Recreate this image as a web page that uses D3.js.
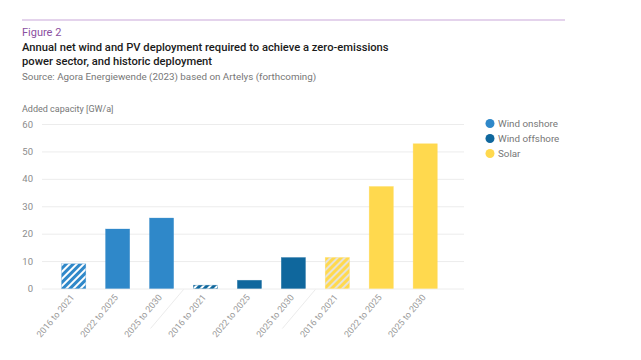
<!DOCTYPE html>
<html><head><meta charset="utf-8">
<script src="https://cdn.jsdelivr.net/npm/d3@7"></script>
<style>body{margin:0;background:#fff}svg{display:block}text{font-family:Roboto,"Noto Sans",sans-serif}</style>
</head><body><svg id="c" width="641" height="360"></svg>
<script>
const groups = ["Wind onshore","Wind offshore","Solar"];
const periods = ["2016 to 2021","2022 to 2025","2025 to 2030"];
const windOnshore = [9.0, 21.7, 25.7];
const windOffshore = [1.2, 3.0, 11.3];
const solar = [11.3, 37.2, 52.8];
const historic = [true, false, false];
const yTicks = [0,10,20,30,40,50,60];
const colors = {"Wind onshore":"#2f88c9","Wind offshore":"#0f679d","Solar":"#ffd94e"};
const stripeColors = {"Wind onshore":"#ffffff","Wind offshore":"#ffffff","Solar":"#e6e2d8"};

const seriesVals = {"Wind onshore":windOnshore,"Wind offshore":windOffshore,"Solar":solar};
const bars = [];
groups.forEach(g => periods.forEach((p,i) => bars.push({g, p, v: seriesVals[g][i], hist: historic[i], key: g+"|"+p})));

const svg = d3.select("#c");
const defs = svg.append("defs");
groups.forEach((g,i) => {
  const pat = defs.append("pattern").attr("id","hatch"+i).attr("patternUnits","userSpaceOnUse")
    .attr("width",5).attr("height",5).attr("patternTransform","rotate(45)");
  pat.append("rect").attr("width",5).attr("height",5).attr("fill",colors[g]);
  pat.append("rect").attr("x",0).attr("width",2).attr("height",5).attr("fill",stripeColors[g]);
});

// header
svg.append("line").attr("x1",22).attr("x2",565).attr("y1",20).attr("y2",20).attr("stroke","#c9a8d9").attr("stroke-width",1.2);
svg.append("text").attr("x",22).attr("y",36).attr("font-size",11).attr("fill","#8b4f9f").text("Figure 2");
svg.append("text").attr("x",22).attr("y",51).attr("font-size",11.2).attr("font-weight",500).attr("fill","#1a1a1a").text("Annual net wind and PV deployment required to achieve a zero-emissions");
svg.append("text").attr("x",22).attr("y",65).attr("font-size",11.2).attr("font-weight",500).attr("fill","#1a1a1a").text("power sector, and historic deployment");
svg.append("text").attr("x",22).attr("y",80).attr("font-size",9.8).attr("fill","#777").text("Source: Agora Energiewende (2023) based on Artelys (forthcoming)");

const y = d3.scaleLinear().domain([0,60]).range([288.5,124]);
const x = d3.scaleBand().domain(bars.map(d=>d.key)).range([51.7,447.2]).paddingInner(0.45).paddingOuter(0.225);

svg.append("text").attr("x",22).attr("y",112).attr("font-size",9).attr("fill","#777").text("Added capacity [GW/a]");

// grid
const gy = svg.append("g").attr("class","grid").attr("transform","translate(42,0)")
  .call(d3.axisLeft(y).tickValues(yTicks).tickSize(-422).tickFormat(""));
gy.select(".domain").remove();
gy.selectAll("line").attr("stroke","#ececec");
const ya = svg.append("g").attr("transform","translate(33,0)").call(d3.axisLeft(y).tickValues(yTicks).tickSize(0).tickPadding(0));
ya.select(".domain").remove();
ya.selectAll("text").attr("font-size",9.5).attr("fill","#8c8c8c").attr("font-family","Roboto,sans-serif");

// bars
svg.append("g").selectAll("rect").data(bars).join("rect")
  .attr("x",d=>x(d.key)).attr("width",x.bandwidth())
  .attr("y",d=>y(d.v)).attr("height",d=>y(0)-y(d.v))
  .attr("fill",d=> d.hist ? "url(#hatch"+groups.indexOf(d.g)+")" : colors[d.g])
  .attr("stroke",d=>colors[d.g]).attr("stroke-opacity",0.5).attr("stroke-width",0.6);

// x labels
const xa = svg.append("g").attr("transform","translate(0,"+y(0)+")")
  .call(d3.axisBottom(x).tickSize(0).tickPadding(0).tickFormat(k=>k.split("|")[1]));
xa.select(".domain").remove();
xa.selectAll("text").attr("font-size",9).attr("fill","#999").attr("font-family","Roboto,sans-serif")
  .attr("text-anchor","end").attr("dy",0).attr("transform","translate(1,9) rotate(-50)");

// separators
const seps = [2,5].map(i => (x(bars[i].key)+x.bandwidth()/2 + x(bars[i+1].key)+x.bandwidth()/2)/2);
svg.append("g").selectAll("line").data(seps).join("line")
  .attr("x1",d=>d).attr("y1",y(0)+1).attr("x2",d=>d-33).attr("y2",y(0)+40)
  .attr("stroke","#e6e6e6").attr("stroke-width",0.8);

// legend
const lg = svg.append("g").selectAll("g").data(groups).join("g")
  .attr("transform",(d,i)=>"translate(490,"+(123.5+i*15)+")");
lg.append("circle").attr("r",4.5).attr("fill",d=>colors[d]);
lg.append("text").attr("x",8).attr("y",3.5).attr("font-size",9.8).attr("fill","#777").text(d=>d);
</script></body></html>
